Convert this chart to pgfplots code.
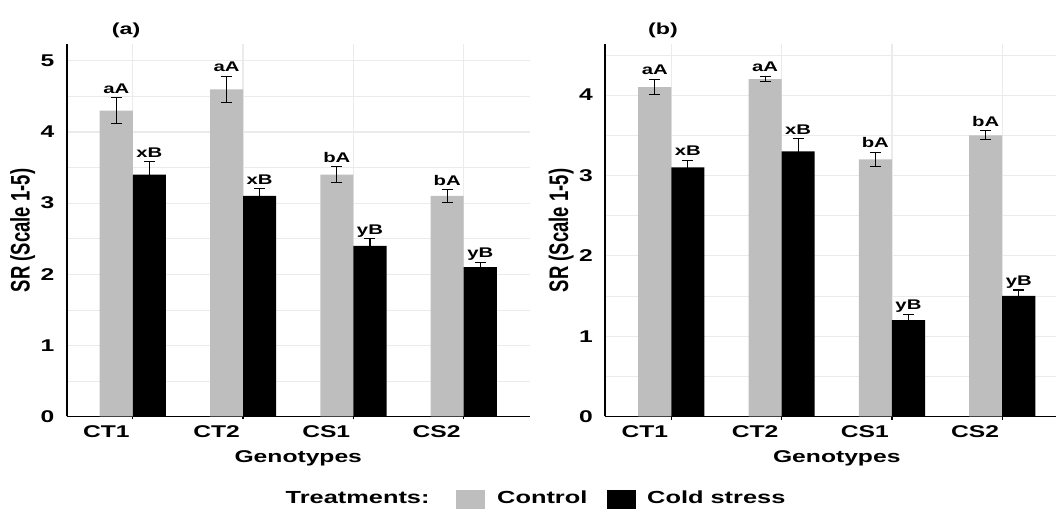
\documentclass[border=0pt]{standalone}
\usepackage{fontspec}
\setmainfont{Liberation Sans}[FakeStretch=1.45]
\newfontfamily\plainsans{Liberation Sans}
\usepackage{graphicx}
\usepackage{pgfplots}
\usepackage{pgfplotstable}
\pgfplotsset{compat=1.18}

\definecolor{ctrl}{RGB}{190,190,190}
\definecolor{gridc}{RGB}{235,235,235}

\newcommand\tickfont{\fontsize{17}{19}\selectfont\bfseries}

% mean survival rating, standard error and significance letters
\pgfplotstableread{
x ctl  ctle  ctll cold colde  coldl
1 4.3  0.18  aA   3.4  0.18   xB
2 4.6  0.18  aA   3.1  0.10   xB
3 3.4  0.11  bA   2.4  0.10   yB
4 3.1  0.09  bA   2.1  0.07   yB
}\panelA

\pgfplotstableread{
x ctl  ctle  ctll cold colde  coldl
1 4.1  0.095 aA   3.1  0.09   xB
2 4.2  0.035 aA   3.3  0.16   xB
3 3.2  0.09  bA   1.2  0.07   yB
4 3.5  0.055 bA   1.5  0.075  yB
}\panelB

\pgfplotsset{
  srpanel/.style={
    scale only axis, width=463.3pt, height=372pt,
    xmin=0.4, xmax=4.6, ymin=0, clip=false,
    axis x line*=bottom, axis y line*=left,
    axis line style={line width=1.8pt, -},
    xtick={1,2,3,4},
    xticklabels={\tickfont CT1,\tickfont CT2,\tickfont CS1,\tickfont CS2},
    yticklabel={\tickfont\pgfmathprintnumber{\tick}},
    grid=both,
    major grid style={gridc, line width=1.2pt},
    minor grid style={gridc, line width=0.6pt},
    tick align=outside,
    major tick length=3pt, minor tick length=0pt,
    xtick style={black, line width=1.2pt},
    ytick style={draw=none},
    /pgf/number format/assume math mode=true,
    xticklabel style={font=\tickfont, anchor=base east, inner sep=0pt, xshift=-3pt, yshift=-17.5pt},
    yticklabel style={font=\tickfont, anchor=east, inner sep=0pt, xshift=-9pt},
    every axis x label/.style={at={(axis description cs:0.5,0)}, anchor=base, yshift=-46.2pt, font=\fontsize{17}{20}\selectfont\bfseries},
    every axis y label/.style={at={(axis description cs:-0.095,0.5)}, anchor=center},
    xlabel={Genotypes},
    ylabel={\rotatebox{90}{\scalebox{1}[1.45]{\plainsans\bfseries\fontsize{18.5}{22}\selectfont SR (Scale 1-5)}}},
  },
  ctlbars/.style={ybar, bar width=0.3, bar shift=-0.15, fill=ctrl, draw=none},
  coldbars/.style={ybar, bar width=0.3, bar shift=0.15, fill=black, draw=none},
  sebars/.style={draw=none, mark=none,
    error bars/.cd, y dir=both, y explicit,
    error bar style={draw=black, line width=1.1pt},
    error mark options={draw=black, line width=1.1pt, mark size=5.5pt, rotate=90}},
  letters/.style={draw=none, mark=none, nodes near coords, point meta=explicit symbolic,
    every node near coord/.append style={anchor=base, inner sep=0pt, yshift=4.5pt,
      font=\fontsize{14}{16}\selectfont\bfseries}},
}

\begin{document}
\begin{tikzpicture}
\useasboundingbox (0,0) rectangle (1056pt,508pt);

% (a)
\begin{axis}[srpanel, at={(66.6pt,91.5pt)}, anchor=south west, ymax=5.23,
    ytick={0,1,...,5}, minor ytick={0.5,1.5,...,4.5}]
  \addplot[ctlbars] table[x=x, y=ctl] {\panelA};
  \addplot[coldbars] table[x=x, y=cold] {\panelA};
  \addplot[sebars] table[x expr=\thisrow{x}-0.15, y=ctl, y error=ctle] {\panelA};
  \addplot[sebars] table[x expr=\thisrow{x}+0.15, y=cold, y error=colde] {\panelA};
  \addplot[letters] table[x expr=\thisrow{x}-0.15, y expr=\thisrow{ctl}+\thisrow{ctle}, meta=ctll] {\panelA};
  \addplot[letters] table[x expr=\thisrow{x}+0.15, y expr=\thisrow{cold}+\thisrow{colde}, meta=coldl] {\panelA};
\end{axis}

% (b)
\begin{axis}[srpanel, at={(605.1pt,91.5pt)}, anchor=south west, ymax=4.63,
    ytick={0,1,...,4}, minor ytick={0.5,1.5,...,4.5}]
  \addplot[ctlbars] table[x=x, y=ctl] {\panelB};
  \addplot[coldbars] table[x=x, y=cold] {\panelB};
  \addplot[sebars] table[x expr=\thisrow{x}-0.15, y=ctl, y error=ctle] {\panelB};
  \addplot[sebars] table[x expr=\thisrow{x}+0.15, y=cold, y error=colde] {\panelB};
  \addplot[letters] table[x expr=\thisrow{x}-0.15, y expr=\thisrow{ctl}+\thisrow{ctle}, meta=ctll] {\panelB};
  \addplot[letters] table[x expr=\thisrow{x}+0.15, y expr=\thisrow{cold}+\thisrow{colde}, meta=coldl] {\panelB};
\end{axis}

% panel titles
\node[anchor=base west, inner sep=0pt, font=\fontsize{16}{18}\selectfont\bfseries] at (111.7pt,473pt) {(a)};
\node[anchor=base west, inner sep=0pt, font=\fontsize{16}{18}\selectfont\bfseries] at (648pt,473pt) {(b)};

% legend
\begin{scope}[every node/.style={anchor=base west, inner sep=0pt, font=\fontsize{17.5}{20}\selectfont\bfseries}]
  \node at (285.5pt,4.5pt) {Treatments:};
  \fill[ctrl] (456pt,-2pt) rectangle (485pt,18pt);
  \node at (497pt,4.5pt) {Control};
  \fill[black] (607pt,-2pt) rectangle (636pt,18pt);
  \node at (647pt,4.5pt) {Cold stress};
\end{scope}
\end{tikzpicture}
\end{document}
